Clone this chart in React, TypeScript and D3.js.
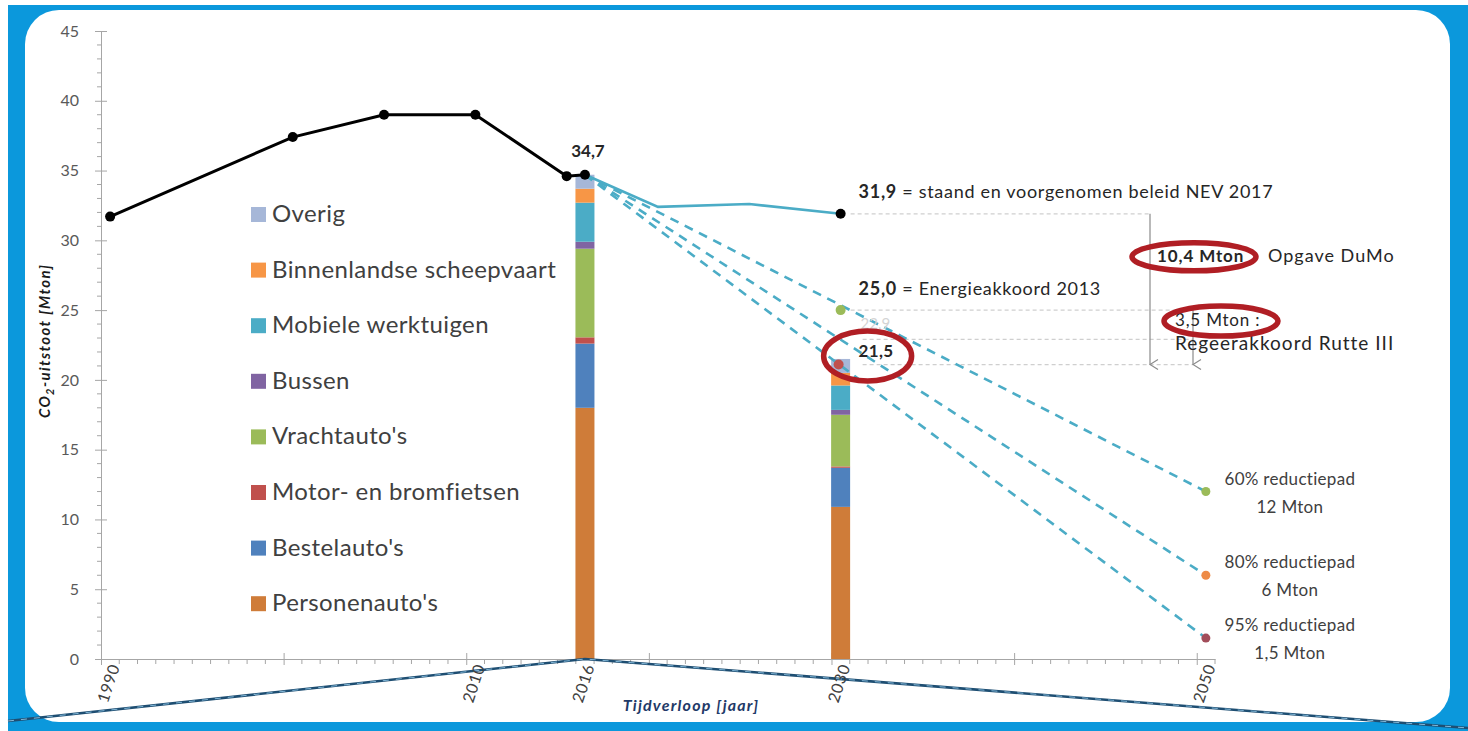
import React, { useEffect, useRef } from "react";
import * as d3 from "d3";

// historic emissions (black line)
const histYears = [1990, 2000, 2005, 2010, 2015, 2016];
const histValues = [31.7, 37.4, 39.0, 39.0, 34.6, 34.7];

// NEV 2017 projection (solid cyan line)
const nevYears = [2016, 2020, 2025, 2030];
const nevValues = [34.7, 32.4, 32.6, 31.9];

// stacked bars, bottom to top
const categories = [
  "Personenauto's",
  "Bestelauto's",
  "Motor- en bromfietsen",
  "Vrachtauto's",
  "Bussen",
  "Mobiele werktuigen",
  "Binnenlandse scheepvaart",
  "Overig",
];
const catColors = ["#CF7C39", "#4F81BD", "#C0504D", "#9BBB59", "#8064A2", "#4BACC6", "#F79646", "#A6B7D8"];
const barYears = [2016, 2030];
const values2016 = [18.0, 4.6, 0.45, 6.35, 0.5, 2.8, 1.0, 1.0];
const values2030 = [10.9, 2.8, 0.1, 3.7, 0.35, 1.75, 0.9, 1.0];

// reduction paths (dashed cyan), from 2016 to 2050
const pathStartYear = 2016;
const pathStartValue = 34.7;
const pathEndYear = 2050;
const pathTargets = [12, 6, 1.5];
const pathLabels = ["60% reductiepad", "80% reductiepad", "95% reductiepad"];
const pathTotals = ["12 Mton", "6 Mton", "1,5 Mton"];
const pathColors = ["#9BBB59", "#EE8B47", "#A24D5A"];

// 2030 reference levels
const nevLevel = 31.9;
const eaLevel = 25.0;
const midLevel = 22.9;
const ruttePoint = 21.1;

const xLabelYears = [1990, 2010, 2016, 2030, 2050];
const yTicks = [0, 5, 10, 15, 20, 25, 30, 35, 40, 45];

const W = 1468;
const H = 731;
const FONT = "Lato, 'Open Sans', sans-serif";

export default function App() {
  const ref = useRef<SVGSVGElement>(null);

  useEffect(() => {
    const svg = d3.select(ref.current);
    svg.selectAll("*").remove();

    const x = d3.scaleLinear().domain([1989.5, 2050.5]).range([101, 1215]);
    const y = d3.scaleLinear().domain([0, 45]).range([659, 31]);

    // frame
    svg.append("rect").attr("width", W).attr("height", H).attr("fill", "#fff");
    svg.append("rect").attr("x", 8).attr("y", 5).attr("width", W - 8).attr("height", H - 5).attr("fill", "#0B98DC");
    svg.append("rect").attr("x", 25).attr("y", 10).attr("width", 1425).attr("height", 712).attr("rx", 34).attr("fill", "#fff");

    const defs = svg.append("defs");
    defs
      .append("marker")
      .attr("id", "arrow")
      .attr("viewBox", "0 0 12 12")
      .attr("refX", 6)
      .attr("refY", 11)
      .attr("markerWidth", 12)
      .attr("markerHeight", 12)
      .attr("orient", "auto-start-reverse")
      .attr("markerUnits", "userSpaceOnUse")
      .append("path")
      .attr("d", "M1,3 L6,11 L11,3")
      .attr("fill", "none")
      .attr("stroke", "#8a8a8a")
      .attr("stroke-width", 1.2);

    // y axis
    const yAxis = svg
      .append("g")
      .attr("transform", "translate(101,0)")
      .call(d3.axisLeft(y).tickValues(yTicks).tickSizeOuter(0).tickPadding(16));
    yAxis.select(".domain").attr("stroke", "#a6a6a6");
    yAxis.selectAll(".tick line").attr("x1", -6).attr("x2", 6).attr("stroke", "#a6a6a6");
    yAxis.selectAll(".tick text").attr("font-family", FONT).attr("font-size", 16).attr("fill", "#595959");
    yAxis
      .selectAll(".minor")
      .data(d3.range(0, 45).filter((d) => d % 5 !== 0))
      .join("line")
      .attr("x1", -4)
      .attr("x2", 0)
      .attr("y1", (d) => y(d))
      .attr("y2", (d) => y(d))
      .attr("stroke", "#a6a6a6");

    // y title
    const yTitle = svg
      .append("text")
      .attr("transform", `translate(50,${y(22.8)}) rotate(-90)`)
      .attr("text-anchor", "middle")
      .attr("font-family", FONT)
      .attr("font-size", 15)
      .attr("letter-spacing", 1.4)
      .attr("font-weight", "bold")
      .attr("font-style", "italic")
      .attr("fill", "#1a1a1a");
    yTitle.append("tspan").text("CO");
    yTitle.append("tspan").attr("font-size", 11).attr("dy", 4).text("2");
    yTitle.append("tspan").attr("dy", -4).text("-uitstoot [Mton]");

    // x axis
    const xAxis = svg
      .append("g")
      .attr("transform", `translate(0,${y(0)})`)
      .call(
        d3
          .axisBottom(x)
          .tickValues(d3.range(1989.5, 2050, 10))
          .tickFormat(() => "")
          .tickSizeOuter(0)
      );
    xAxis.select(".domain").attr("stroke", "#a6a6a6");
    xAxis.selectAll(".tick line").attr("y1", -6).attr("y2", 6).attr("stroke", "#a6a6a6");
    xAxis
      .selectAll(".minor")
      .data(d3.range(1990.5, 2051, 1).filter((d) => (d - 1989.5) % 10 !== 0))
      .join("line")
      .attr("x1", (d) => x(d))
      .attr("x2", (d) => x(d))
      .attr("y1", 0)
      .attr("y2", 5)
      .attr("stroke", "#a6a6a6");

    // bars
    const stacks = [values2016, values2030];
    barYears.forEach((yr, i) => {
      const vals = stacks[i];
      const cum = d3.cumsum(vals);
      svg
        .append("g")
        .selectAll("rect")
        .data(vals)
        .join("rect")
        .attr("x", x(yr) - 9.5)
        .attr("width", 19)
        .attr("y", (d, j) => y(cum[j]))
        .attr("height", (d) => y(0) - y(d))
        .attr("fill", (d, j) => catColors[j]);
    });

    // decorative callout lines at the bottom
    const deco = d3.line();
    const decoPts: [number, number][] = [
      [8, 721],
      [x(2016), y(0)],
      [W, 728],
    ];
    svg.append("path").attr("d", deco(decoPts)).attr("fill", "none").attr("stroke", "#1E4E72").attr("stroke-width", 2.6);
    svg
      .append("path")
      .attr("d", deco(decoPts))
      .attr("fill", "none")
      .attr("stroke", "#8CC3E3")
      .attr("stroke-width", 0.9)
      .attr("stroke-dasharray", "6 7");

    // x labels
    svg
      .append("g")
      .selectAll("text")
      .data(xLabelYears)
      .join("text")
      .attr("transform", (d) => `translate(${x(d) + 6},${y(0) + 6}) rotate(-72)`)
      .attr("text-anchor", "end")
      .attr("dominant-baseline", "middle")
      .attr("font-family", FONT)
      .attr("font-size", 16)
      .attr("letter-spacing", 0.6)
      .attr("fill", "#404040")
      .text((d) => d);

    svg
      .append("text")
      .attr("x", 691)
      .attr("y", 711)
      .attr("text-anchor", "middle")
      .attr("font-family", FONT)
      .attr("font-size", 16)
      .attr("letter-spacing", 1.2)
      .attr("font-weight", "bold")
      .attr("font-style", "italic")
      .attr("fill", "#1F3A68")
      .text("Tijdverloop [jaar]");

    // legend
    const legend = svg.append("g").attr("transform", "translate(251,214)");
    const legItems = categories.map((c, i) => ({ c, col: catColors[i] })).reverse();
    legItems.forEach((it, i) => {
      const g = legend.append("g").attr("transform", `translate(0,${i * 55.6})`);
      g.append("rect").attr("x", 0).attr("y", -7).attr("width", 15).attr("height", 15).attr("fill", it.col);
      g.append("text")
        .attr("x", 21)
        .attr("y", 8)
        .attr("font-family", FONT)
        .attr("font-size", 24)
        .attr("letter-spacing", 0.4)
        .attr("fill", "#404040")
        .text(it.c);
    });

    // reference dashed gray lines and arrows
    const refLine = (v: number, x0: number, x1: number) =>
      svg
        .append("line")
        .attr("x1", x0)
        .attr("x2", x1)
        .attr("y1", y(v))
        .attr("y2", y(v))
        .attr("stroke", "#cfcfcf")
        .attr("stroke-width", 1.2)
        .attr("stroke-dasharray", "4 3");
    refLine(nevLevel, x(2030) + 10, 1150);
    refLine(eaLevel, x(2030) + 10, 1193);
    refLine(midLevel, x(2030) + 22, 1193);
    refLine(ruttePoint, x(2030) + 22, 1193);

    [
      [1150, nevLevel],
      [1193, eaLevel],
    ].forEach(([ax, v]) => {
      svg
        .append("line")
        .attr("x1", ax)
        .attr("x2", ax)
        .attr("y1", y(v))
        .attr("y2", y(ruttePoint))
        .attr("stroke", "#8a8a8a")
        .attr("stroke-width", 1.2)
        .attr("marker-end", "url(#arrow)");
    });

    // reduction paths
    const line = d3
      .line<[number, number]>()
      .x((d) => x(d[0]))
      .y((d) => y(d[1]));
    pathTargets.forEach((t) => {
      svg
        .append("path")
        .attr("d", line([
          [pathStartYear, pathStartValue],
          [pathEndYear, t],
        ]))
        .attr("fill", "none")
        .attr("stroke", "#4BACC6")
        .attr("stroke-width", 2.6)
        .attr("stroke-dasharray", "9 7");
    });

    // NEV line
    svg
      .append("path")
      .attr("d", line(nevYears.map((d, i) => [d, nevValues[i]] as [number, number])))
      .attr("fill", "none")
      .attr("stroke", "#4BACC6")
      .attr("stroke-width", 2.6);

    // historic line
    const hist = histYears.map((d, i) => [d, histValues[i]] as [number, number]);
    svg
      .append("path")
      .attr("d", line(hist))
      .attr("fill", "none")
      .attr("stroke", "#000")
      .attr("stroke-width", 3);
    svg
      .append("g")
      .selectAll("circle")
      .data([...hist, [2030, nevLevel] as [number, number]])
      .join("circle")
      .attr("cx", (d) => x(d[0]))
      .attr("cy", (d) => y(d[1]))
      .attr("r", 5)
      .attr("fill", "#000");

    // 2030 points
    svg.append("circle").attr("cx", x(2030)).attr("cy", y(eaLevel)).attr("r", 5).attr("fill", "#9BBB59");
    svg.append("circle").attr("cx", x(2030) - 2).attr("cy", y(ruttePoint)).attr("r", 5).attr("fill", "#C0504D");

    // 2050 end points + labels
    pathTargets.forEach((t, i) => {
      svg.append("circle").attr("cx", x(pathEndYear)).attr("cy", y(t)).attr("r", 4.5).attr("fill", pathColors[i]);
      svg
        .append("text")
        .attr("x", x(pathEndYear) + 84)
        .attr("y", y(t) - 7)
        .attr("text-anchor", "middle")
        .attr("font-family", FONT)
        .attr("font-size", 17)
        .attr("letter-spacing", 0.3)
        .attr("fill", "#404040")
        .text(pathLabels[i]);
      svg
        .append("text")
        .attr("x", x(pathEndYear) + 84)
        .attr("y", y(t) + 21)
        .attr("text-anchor", "middle")
        .attr("font-family", FONT)
        .attr("font-size", 17)
        .attr("letter-spacing", 0.3)
        .attr("fill", "#404040")
        .text(pathTotals[i]);
    });

    // annotations
    const ann = (xx: number, yy: number, bold: string, rest: string, size = 17, ls = 0.8) => {
      const t = svg
        .append("text")
        .attr("x", xx)
        .attr("y", yy)
        .attr("font-family", FONT)
        .attr("font-size", size)
        .attr("letter-spacing", ls)
        .attr("fill", "#262626");
      t.append("tspan").attr("font-weight", "bold").text(bold);
      if (rest) t.append("tspan").text(rest);
      return t;
    };
    svg
      .append("text")
      .attr("x", x(2016) + 3)
      .attr("y", y(34.7) - 18)
      .attr("text-anchor", "middle")
      .attr("font-family", FONT)
      .attr("font-size", 17)
      .attr("font-weight", "bold")
      .attr("fill", "#262626")
      .text("34,7");
    ann(x(2030) + 18, y(nevLevel) - 16, "31,9", " = staand en voorgenomen beleid NEV 2017", 18, 0.7);
    ann(x(2030) + 18, y(eaLevel) - 15, "25,0", " = Energieakkoord 2013", 18, 0.7);
    svg
      .append("text")
      .attr("x", x(2030) + 20)
      .attr("y", y(midLevel) - 10)
      .attr("font-family", FONT)
      .attr("font-size", 15)
      .attr("fill", "#d4d4d4")
      .text("22,9");
    ann(x(2030) + 18, y(ruttePoint) - 8, "21,5", "", 17, 0.3);
    ann(1157, y(nevLevel) + 48, "10,4 Mton", "", 17, 0.9);
    ann(1268, y(nevLevel) + 48, "", "Opgave DuMo", 18, 1.0);
    ann(1175, y(eaLevel) + 16, "", "3,5 Mton :", 17, 0.8);
    ann(1175, y(eaLevel) + 40, "", "Regeerakkoord Rutte III", 19, 1.0);

    // red highlight ellipses
    const ell = (cx: number, cy: number, rx: number, ry: number) =>
      svg
        .append("ellipse")
        .attr("cx", cx)
        .attr("cy", cy)
        .attr("rx", rx)
        .attr("ry", ry)
        .attr("fill", "none")
        .attr("stroke", "#B01E24")
        .attr("stroke-width", 5.5);
    ell(x(2030) + 27, y(21.5) - 3, 44, 25);
    ell(1194, y(nevLevel) + 43, 62, 14);
    ell(1221, y(eaLevel) + 11, 57, 15);
  }, []);

  return (
    <div style={{ position: "fixed", left: 0, top: 0, width: W, height: H }}>
      <svg ref={ref} width={W} height={H} viewBox={`0 0 ${W} ${H}`} />
    </div>
  );
}
